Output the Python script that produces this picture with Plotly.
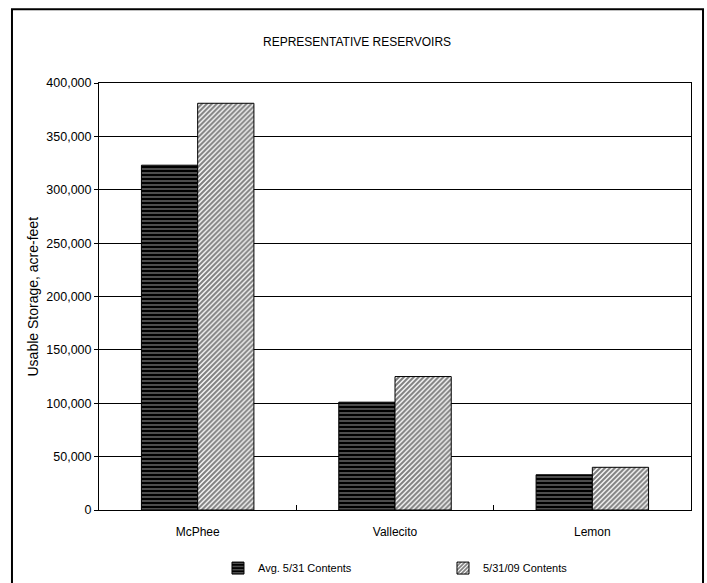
import plotly.graph_objects as go

# Reservoir storage, acre-feet
reservoirs = ["McPhee", "Vallecito", "Lemon"]
avg_contents = [323000, 101000, 33000]
current_contents = [381000, 125000, 40000]
series_names = ["Avg. 5/31 Contents", "5/31/09 Contents"]
y_ticks = [0, 50000, 100000, 150000, 200000, 250000, 300000, 350000, 400000]

FONT = "Liberation Sans, Arial, sans-serif"

fig = go.Figure()
fig.add_trace(go.Bar(
    x=reservoirs, y=avg_contents, name=series_names[0],
    marker=dict(
        color="black",
        line=dict(color="black", width=1),
        pattern=dict(shape="-", bgcolor="black", fgcolor="white",
                     size=4, solidity=0.3, fillmode="overlay"),
    ),
))
fig.add_trace(go.Bar(
    x=reservoirs, y=current_contents, name=series_names[1],
    marker=dict(
        color="white",
        line=dict(color="black", width=1),
        pattern=dict(shape="/", bgcolor="white", fgcolor="black",
                     size=3.5, solidity=0.6, fillmode="overlay"),
    ),
))

fig.update_layout(
    width=707, height=583,
    margin=dict(l=99, r=16, t=83, b=73, autoexpand=False),
    paper_bgcolor="white", plot_bgcolor="white",
    font=dict(family=FONT, size=12, color="black"),
    barmode="group", bargap=0.43, bargroupgap=0,
    showlegend=True,
    legend=dict(
        orientation="h", x=0.201, xanchor="left", y=-0.136, yanchor="middle",
        font=dict(size=11), itemwidth=30, entrywidth=180, traceorder="normal",
        bgcolor="rgba(0,0,0,0)",
    ),
    xaxis=dict(
        type="category", tickson="boundaries", ticks="inside", ticklen=5,
        tickcolor="black", showline=True, linecolor="black", linewidth=1,
        mirror=True, showgrid=False, tickfont=dict(size=12),
        ticklabelstandoff=11, automargin=False,
    ),
    yaxis=dict(
        range=[0, 400000], tickvals=y_ticks,
        ticktext=[f"{v:,}" for v in y_ticks],
        ticks="outside", ticklen=4, tickcolor="black",
        showline=True, linecolor="black", linewidth=1, mirror=True,
        showgrid=True, gridcolor="black", gridwidth=1,
        zeroline=False, tickfont=dict(size=12.5), automargin=False,
    ),
    annotations=[
        dict(text="REPRESENTATIVE RESERVOIRS", xref="paper", yref="paper",
             x=0.436, y=1.095, xanchor="center", yanchor="middle",
             showarrow=False, font=dict(size=12)),
        dict(text="Usable Storage, acre-feet", xref="paper", yref="paper",
             x=-0.1115, y=0.5, xanchor="center", yanchor="middle",
             textangle=-90, showarrow=False, font=dict(size=14)),
    ],
    shapes=[
        dict(type="rect", xref="paper", yref="paper",
             x0=-0.147, x1=1.0203, y0=-0.25, y1=1.1725,
             line=dict(color="black", width=2), layer="below"),
    ],
)

fig.write_html("out.html")
